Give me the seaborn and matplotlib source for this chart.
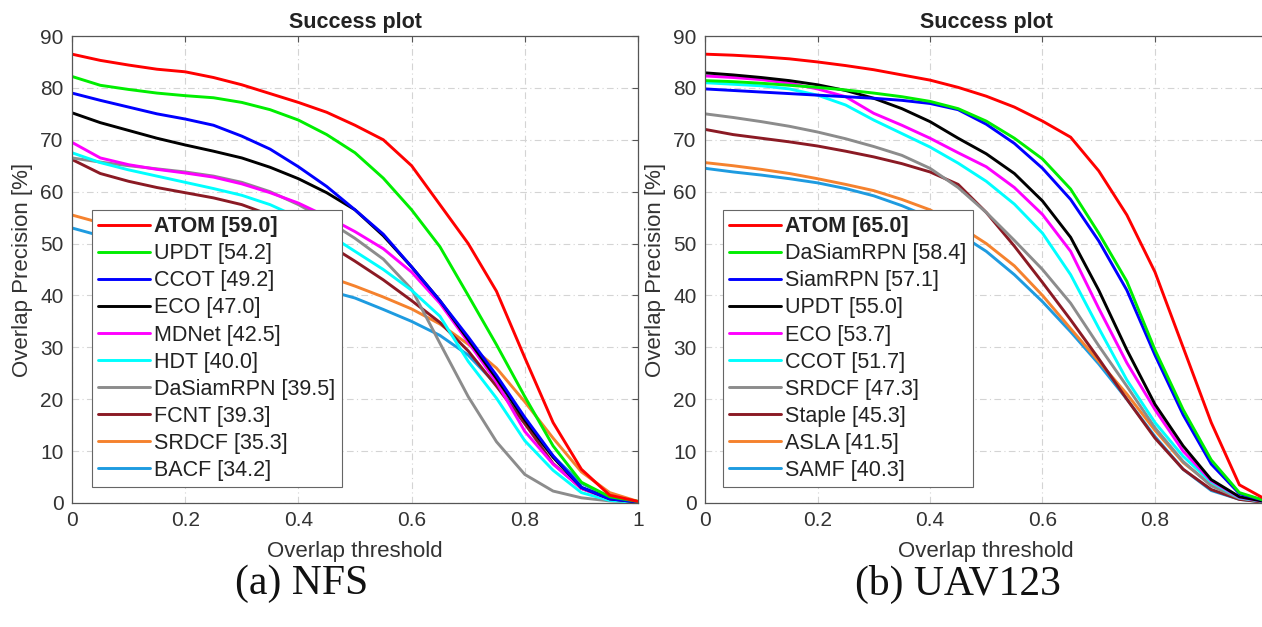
import numpy as np
import pandas as pd
import matplotlib
matplotlib.use('Agg')
import matplotlib.pyplot as plt
import seaborn as sns

# Overlap thresholds used for sampling the success curves
thresholds = [0.00, 0.05, 0.10, 0.15, 0.20, 0.25, 0.30, 0.35, 0.40, 0.45, 0.50,
              0.55, 0.60, 0.65, 0.70, 0.75, 0.80, 0.85, 0.90, 0.95, 1.00]

# NFS success curves (overlap precision in %)
nfs_names = ['ATOM', 'UPDT', 'CCOT', 'ECO', 'MDNet', 'HDT', 'DaSiamRPN', 'FCNT', 'SRDCF', 'BACF']
nfs_scores = ['59.0', '54.2', '49.2', '47.0', '42.5', '40.0', '39.5', '39.3', '35.3', '34.2']
nfs_atom = [86.5, 85.3, 84.4, 83.6, 83.1, 82.0, 80.6, 78.9, 77.2, 75.3, 72.8, 70.0, 65.0, 57.5, 50.0, 40.8, 28.0, 15.5, 6.5, 1.5, 0.3]
nfs_updt = [82.2, 80.5, 79.7, 79.0, 78.5, 78.1, 77.2, 75.8, 73.8, 71.0, 67.5, 62.6, 56.5, 49.4, 40.0, 30.5, 20.5, 11.0, 4.0, 1.2, 0.3]
nfs_ccot = [79.0, 77.6, 76.3, 75.0, 74.0, 72.8, 70.7, 68.2, 64.8, 61.0, 56.5, 51.8, 45.5, 39.0, 32.0, 24.6, 16.5, 9.1, 3.0, 0.8, 0.2]
nfs_eco = [75.2, 73.3, 71.8, 70.3, 69.0, 67.8, 66.5, 64.7, 62.5, 59.8, 56.5, 51.5, 45.5, 39.0, 31.5, 24.0, 16.0, 8.8, 3.0, 0.8, 0.2]
nfs_mdnet = [69.5, 66.5, 65.2, 64.3, 63.6, 62.8, 61.5, 59.8, 57.8, 55.2, 52.3, 49.0, 44.5, 38.5, 31.0, 23.3, 13.8, 7.5, 2.8, 0.8, 0.2]
nfs_hdt = [67.5, 65.6, 64.2, 63.0, 61.8, 60.6, 59.3, 57.5, 55.0, 52.0, 48.5, 45.0, 41.0, 36.0, 27.3, 20.2, 12.0, 6.3, 2.0, 0.5, 0.1]
nfs_dasiam = [66.5, 65.7, 65.0, 64.4, 63.8, 63.0, 61.8, 60.0, 57.5, 54.5, 51.0, 47.0, 41.2, 30.8, 20.5, 11.8, 5.5, 2.3, 1.0, 0.4, 0.2]
nfs_fcnt = [66.2, 63.5, 62.0, 60.8, 59.8, 58.8, 57.5, 55.5, 53.0, 50.0, 46.6, 43.0, 39.0, 34.8, 29.3, 22.5, 15.3, 7.6, 2.8, 0.8, 0.2]
nfs_srdcf = [55.5, 54.0, 52.8, 51.6, 50.5, 49.3, 48.1, 46.8, 45.3, 43.7, 41.8, 39.7, 37.4, 34.5, 30.6, 26.0, 19.5, 12.5, 6.0, 2.0, 0.3]
nfs_bacf = [53.0, 51.5, 50.2, 49.0, 47.8, 46.6, 45.3, 44.0, 42.5, 41.0, 39.5, 37.3, 35.0, 32.3, 28.5, 22.8, 15.3, 9.0, 3.8, 1.1, 0.2]

# UAV123 success curves (overlap precision in %)
uav_names = ['ATOM', 'DaSiamRPN', 'SiamRPN', 'UPDT', 'ECO', 'CCOT', 'SRDCF', 'Staple', 'ASLA', 'SAMF']
uav_scores = ['65.0', '58.4', '57.1', '55.0', '53.7', '51.7', '47.3', '45.3', '41.5', '40.3']
uav_atom = [86.5, 86.3, 86.0, 85.6, 85.0, 84.3, 83.5, 82.5, 81.5, 80.1, 78.4, 76.3, 73.6, 70.5, 64.0, 55.5, 44.5, 30.0, 15.5, 3.5, 0.5]
uav_dasiam = [81.4, 81.2, 80.9, 80.5, 80.1, 79.6, 79.0, 78.3, 77.4, 76.0, 73.6, 70.3, 66.3, 60.5, 52.0, 42.7, 29.5, 18.0, 8.3, 2.0, 0.3]
uav_siamrpn = [79.8, 79.5, 79.2, 78.9, 78.6, 78.3, 78.0, 77.6, 77.0, 75.8, 73.0, 69.3, 64.5, 58.5, 50.5, 41.0, 28.5, 17.0, 7.5, 1.8, 0.3]
uav_updt = [82.9, 82.5, 82.0, 81.4, 80.6, 79.5, 78.0, 76.0, 73.5, 70.3, 67.3, 63.5, 58.2, 51.2, 41.0, 29.5, 19.0, 11.0, 4.5, 1.2, 0.2]
uav_eco = [82.3, 82.0, 81.6, 80.9, 79.8, 78.3, 75.1, 72.8, 70.3, 67.5, 64.8, 60.8, 55.6, 48.5, 37.5, 27.0, 18.0, 10.0, 4.3, 1.1, 0.2]
uav_ccot = [81.0, 80.7, 80.4, 79.8, 78.6, 76.7, 73.8, 71.2, 68.6, 65.5, 62.0, 57.6, 52.0, 44.0, 33.7, 23.7, 15.5, 9.0, 4.0, 1.0, 0.2]
uav_srdcf = [75.0, 74.3, 73.5, 72.6, 71.5, 70.2, 68.7, 67.0, 64.5, 60.8, 56.0, 50.6, 45.0, 38.5, 30.3, 22.5, 14.5, 8.0, 3.3, 0.9, 0.2]
uav_staple = [72.0, 71.0, 70.3, 69.6, 68.8, 67.8, 66.7, 65.4, 63.8, 61.4, 56.0, 49.5, 42.5, 35.3, 27.8, 20.0, 12.5, 6.5, 2.6, 0.7, 0.1]
uav_asla = [65.6, 65.0, 64.3, 63.5, 62.5, 61.4, 60.2, 58.5, 56.5, 53.5, 50.0, 45.7, 40.0, 33.6, 27.3, 21.0, 14.0, 7.8, 3.5, 0.8, 0.1]
uav_samf = [64.5, 63.8, 63.2, 62.5, 61.7, 60.6, 59.2, 57.3, 55.0, 52.0, 48.5, 44.0, 38.8, 33.0, 26.8, 20.0, 12.8, 6.5, 2.4, 0.7, 0.1]

nfs_curves = [nfs_atom, nfs_updt, nfs_ccot, nfs_eco, nfs_mdnet, nfs_hdt,
              nfs_dasiam, nfs_fcnt, nfs_srdcf, nfs_bacf]
uav_curves = [uav_atom, uav_dasiam, uav_siamrpn, uav_updt, uav_eco, uav_ccot,
              uav_srdcf, uav_staple, uav_asla, uav_samf]

# line colours by legend rank (same order in both panels)
rank_colors = ['#ff0000', '#00ee00', '#0000ff', '#000000', '#ff00ff',
               '#00ffff', '#8c8c8c', '#8b1a24', '#f5822e', '#1e9be0']

sns.set_theme(style='white')
plt.rcParams['font.family'] = ['Liberation Sans', 'DejaVu Sans']
plt.rcParams['axes.edgecolor'] = '#555555'
plt.rcParams['axes.linewidth'] = 0.9

fig = plt.figure(figsize=(12.62, 6.27), dpi=100)
ax_l = fig.add_axes([72 / 1262, 124 / 627, 566 / 1262, 467 / 627])
ax_r = fig.add_axes([705 / 1262, 124 / 627, 562.5 / 1262, 467 / 627])


def draw_panel(ax, names, scores, curves, legend_x, show_one):
    rows = []
    for name, curve in zip(names, curves):
        for t, v in zip(thresholds, curve):
            rows.append({'Tracker': name, 'Threshold': t, 'Precision': v})
    df = pd.DataFrame(rows)
    palette = dict(zip(names, rank_colors))

    # draw worst first so ATOM ends up on top
    for name in names[::-1]:
        sns.lineplot(data=df[df['Tracker'] == name], x='Threshold', y='Precision',
                     color=palette[name], linewidth=2.1, ax=ax, legend=False)
    for line in ax.get_lines():
        line.set_solid_joinstyle('round')

    ax.set_xlim(0, 1)
    ax.set_ylim(0, 90)
    ax.set_xticks([0, 0.2, 0.4, 0.6, 0.8, 1.0])
    ax.set_xticklabels(['0', '0.2', '0.4', '0.6', '0.8', '1' if show_one else ''])
    ax.set_yticks(range(0, 91, 10))
    ax.tick_params(direction='in', top=True, right=True, length=4, width=0.8,
                   colors='#555555', labelcolor='#333333', labelsize=15, pad=6)
    ax.grid(True, color='#d4d4d4', linewidth=0.8, linestyle=(0, (6, 3, 1, 3)))
    ax.set_axisbelow(True)
    for s in ax.spines.values():
        s.set_visible(True)
    ax.set_xlabel('Overlap threshold', fontsize=16, color='#333333', labelpad=8)
    ax.set_ylabel('Overlap Precision [%]', fontsize=16, color='#333333', labelpad=5)
    ax.set_title('Success plot', fontsize=15.5, fontweight='bold', color='#222222', pad=6)

    handles = [plt.Line2D([], [], color=palette[n], linewidth=2.1) for n in names]
    labels = [f'{n} [{s}]' for n, s in zip(names, scores)]
    leg = ax.legend(handles, labels, loc='lower left', bbox_to_anchor=(legend_x, 0.034),
                    borderaxespad=0, fontsize=15.5, frameon=True, fancybox=False,
                    edgecolor='#666666', framealpha=1, handlelength=2.4,
                    handletextpad=0.2, labelspacing=0.28, borderpad=0.3)
    leg.get_frame().set_linewidth(0.8)
    for i, txt in enumerate(leg.get_texts()):
        txt.set_color('#222222')
        if i == 0:
            txt.set_fontweight('bold')


draw_panel(ax_l, nfs_names, nfs_scores, nfs_curves, 0.035, True)
draw_panel(ax_r, uav_names, uav_scores, uav_curves, 0.032, False)

fig.text(302 / 1262, 1 - 584 / 627, '(a) NFS', ha='center', va='center',
         fontsize=30, family=['Liberation Serif', 'DejaVu Serif'], color='#111111')
fig.text(958 / 1262, 1 - 584 / 627, '(b) UAV123', ha='center', va='center',
         fontsize=30, family=['Liberation Serif', 'DejaVu Serif'], color='#111111')

fig.savefig('out.png', dpi=100, facecolor='white')
